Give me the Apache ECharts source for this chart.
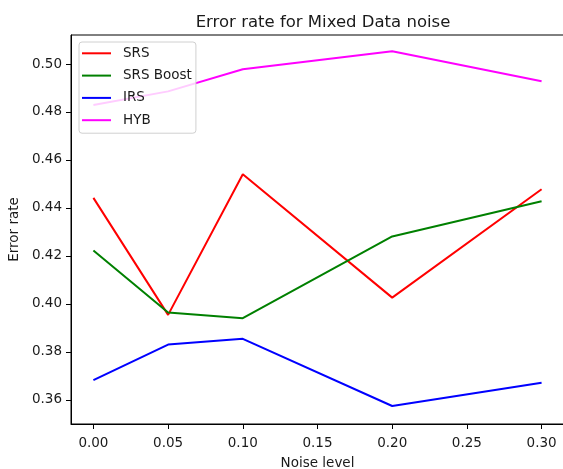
<!DOCTYPE html>
<html>
<head>
<meta charset="utf-8">
<script src="https://cdn.jsdelivr.net/npm/echarts@6/dist/echarts.min.js"></script>
<style>html,body{margin:0;padding:0;background:#fff}#c{width:563px;height:469px}</style>
</head>
<body>
<div id="c"></div>
<script>
var noiseLevels = [0.00, 0.05, 0.10, 0.20, 0.30];
var srs      = [0.4442, 0.3954, 0.4540, 0.4026, 0.4478];
var srsBoost = [0.4222, 0.3964, 0.3940, 0.4281, 0.4428];
var irs      = [0.3682, 0.3830, 0.3854, 0.3574, 0.3671];
var hyb      = [0.4829, 0.4886, 0.4978, 0.5053, 0.4928];
var xTicks = [0.00, 0.05, 0.10, 0.15, 0.20, 0.25, 0.30];
var yTicks = [0.36, 0.38, 0.40, 0.42, 0.44, 0.46, 0.48, 0.50];

function pairs(ys){ return noiseLevels.map(function(x,i){ return [x, ys[i]]; }); }
var textColor = '#1a1a1a';
var font = 'DejaVu Sans';
function mk(name, data, color){
  return { name: name, type: 'line', data: pairs(data), symbol: 'none', showSymbol: false,
    lineStyle: { color: color, width: 2 }, itemStyle: { color: color }, z: 2, animation: false };
}
var chart = echarts.init(document.getElementById('c'), null, { renderer: 'canvas' });
chart.setOption({
  animation: false,
  backgroundColor: '#fff',
  title: { text: 'Error rate for Mixed Data noise', left: 318, textAlign: 'center', top: 9,
    textStyle: { fontFamily: font, fontSize: 16.5, fontWeight: 'normal', color: textColor } },
  grid: { left: 71, top: 35, width: 493, height: 389, show: true, borderColor: '#000', borderWidth: 1,
    backgroundColor: 'transparent', containLabel: false, outerBoundsMode: 'none' },
  legend: {
    orient: 'vertical', left: 79, top: 42,
    padding: [3.3, 4, 5, 3], itemWidth: 29, itemHeight: 2, itemGap: 6.3, icon: 'rect',
    backgroundColor: 'rgba(255,255,255,0.8)', borderColor: '#d0d0d0', borderWidth: 1, borderRadius: 3,
    textStyle: { fontFamily: font, fontSize: 13.5, lineHeight: 16, color: textColor, padding: [0, 0, 0, 7] },
    data: ['SRS', 'SRS Boost', 'IRS', 'HYB'], z: 10
  },
  xAxis: {
    type: 'value', min: -0.015, max: 0.315,
    name: 'Noise level', nameLocation: 'middle', nameGap: 32,
    nameTextStyle: { fontFamily: font, fontSize: 13.5, color: textColor },
    axisLine: { show: true, onZero: false, lineStyle: { color: '#000', width: 1 } },
    axisTick: { show: true, length: 5, customValues: xTicks, lineStyle: { color: '#000' } },
    axisLabel: { customValues: xTicks, margin: 12, fontFamily: font, fontSize: 13.5, color: textColor,
      formatter: function(v){ return v.toFixed(2); } },
    splitLine: { show: false }
  },
  yAxis: {
    type: 'value', min: 0.3499, max: 0.5121,
    name: 'Error rate', nameLocation: 'middle', nameGap: 47,
    nameTextStyle: { fontFamily: font, fontSize: 13.5, color: textColor },
    axisLine: { show: true, onZero: false, lineStyle: { color: '#000', width: 1 } },
    axisTick: { show: true, length: 5, customValues: yTicks, lineStyle: { color: '#000' } },
    axisLabel: { customValues: yTicks, margin: 9, fontFamily: font, fontSize: 13.5, color: textColor,
      formatter: function(v){ return v.toFixed(2); } },
    splitLine: { show: false }
  },
  series: [ mk('SRS', srs, '#ff0000'), mk('SRS Boost', srsBoost, '#008000'), mk('IRS', irs, '#0000ff'), mk('HYB', hyb, '#ff00ff') ]
});
</script>
</body>
</html>
